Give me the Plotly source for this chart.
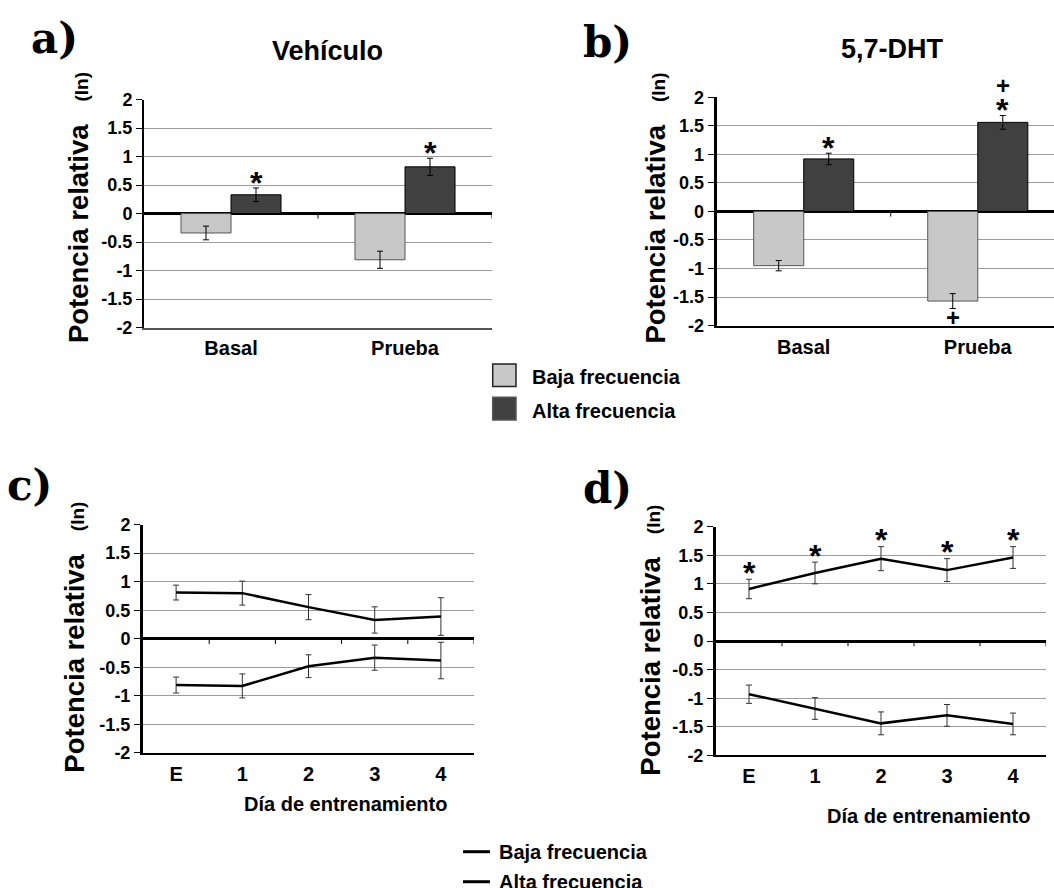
import plotly.graph_objects as go

# ---------------- data ----------------
bar_categories = ["Basal", "Prueba"]
veh_low = [-0.34, -0.81]
veh_low_err = [0.12, 0.15]
veh_high = [0.33, 0.82]
veh_high_err = [0.12, 0.15]

dht_low = [-0.95, -1.57]
dht_low_err = [0.09, 0.13]
dht_high = [0.92, 1.56]
dht_high_err = [0.10, 0.12]

day_labels = ["E", "1", "2", "3", "4"]
c_high = [0.81, 0.80, 0.555, 0.33, 0.39]
c_high_err = [0.13, 0.21, 0.22, 0.23, 0.33]
c_low = [-0.81, -0.825, -0.48, -0.33, -0.38]
c_low_err = [0.14, 0.21, 0.20, 0.22, 0.32]

d_high = [0.91, 1.19, 1.44, 1.24, 1.46]
d_high_err = [0.17, 0.19, 0.21, 0.20, 0.19]
d_low = [-0.93, -1.18, -1.44, -1.30, -1.45]
d_low_err = [0.16, 0.19, 0.20, 0.19, 0.19]

y_ticks = [-2, -1.5, -1, -0.5, 0, 0.5, 1, 1.5, 2]
y_tick_text = ["-2", "-1.5", "-1", "-0.5", "0", "0.5", "1", "1.5", "2"]
Y_RANGE = [-2, 2]

# ---------------- page geometry ----------------
W, H = 1054, 900
# measured relation between page pixels and picture pixels (vertical)
OFF, SCALE = 9.45, 0.9776

FONT = "Liberation Sans, Arial, sans-serif"
LIGHT = "#c8c8c8"
DARK = "#404040"
GRID = "#9c9c9c"
BARGAP = 0.425


def px_x(x):
    return x / W


def px_y(y):
    return 1 - ((y - OFF) / SCALE) / H


def P(x, y):
    return px_x(x), px_y(y)


fig = go.Figure()

fig.add_trace(go.Bar(x=bar_categories, y=veh_low, name="Baja frecuencia",
                     marker=dict(color=LIGHT, line=dict(color="#555555", width=1)),
                     error_y=dict(type="data", array=veh_low_err, color="black", thickness=1, width=3),
                     xaxis="x", yaxis="y", showlegend=False))
fig.add_trace(go.Bar(x=bar_categories, y=veh_high, name="Alta frecuencia",
                     marker=dict(color=DARK, line=dict(color="black", width=1)),
                     error_y=dict(type="data", array=veh_high_err, color="black", thickness=1, width=3),
                     xaxis="x", yaxis="y", showlegend=False))
fig.add_trace(go.Bar(x=bar_categories, y=dht_low, name="Baja frecuencia",
                     marker=dict(color=LIGHT, line=dict(color="#555555", width=1)),
                     error_y=dict(type="data", array=dht_low_err, color="black", thickness=1, width=3),
                     xaxis="x2", yaxis="y2", showlegend=False))
fig.add_trace(go.Bar(x=bar_categories, y=dht_high, name="Alta frecuencia",
                     marker=dict(color=DARK, line=dict(color="black", width=1)),
                     error_y=dict(type="data", array=dht_high_err, color="black", thickness=1, width=3),
                     xaxis="x2", yaxis="y2", showlegend=False))

for xa, ya, hi, hie, lo, loe in [("x3", "y3", c_high, c_high_err, c_low, c_low_err),
                                 ("x4", "y4", d_high, d_high_err, d_low, d_low_err)]:
    for vals, errs, nm in [(lo, loe, "Baja frecuencia"), (hi, hie, "Alta frecuencia")]:
        fig.add_trace(go.Scatter(x=day_labels, y=vals, mode="lines", name=nm,
                                 line=dict(color="black", width=2.5),
                                 error_y=dict(type="data", array=errs, color="#333333", thickness=1, width=3),
                                 xaxis=xa, yaxis=ya, showlegend=False))

doms = {
    "a": dict(x=[px_x(144), px_x(492)], y=[px_y(327), px_y(99)]),
    "b": dict(x=[px_x(716.7), 1.0], y=[px_y(325), px_y(96.7)]),
    "c": dict(x=[px_x(143), px_x(474)], y=[px_y(752.3), px_y(524)]),
    "d": dict(x=[px_x(716), px_x(1046)], y=[px_y(754.7), px_y(526)]),
}
tickfont_y = dict(family=FONT, size=18, color="black", weight="bold")
tickfont_x = dict(family=FONT, size=20, color="black", weight="bold")

panels = [("a", "xaxis", "yaxis", "y", [-0.5, 1.5], 2),
          ("b", "xaxis2", "yaxis2", "y2", [-0.5, 1.438], 3),
          ("c", "xaxis3", "yaxis3", "y3", [-0.5, 4.5], 3),
          ("d", "xaxis4", "yaxis4", "y4", [-0.5, 4.5], 3)]
for key, xk, yk, yref, xr, lw in panels:
    fig.layout[xk] = dict(domain=doms[key]["x"], anchor=yref, type="category", range=xr,
                          showgrid=False, zeroline=False, showline=True,
                          linecolor="#555555" if key == "a" else "black",
                          linewidth=1.5 if key == "a" else 2,
                          ticks="", tickfont=tickfont_x, ticklabelstandoff=2, fixedrange=True)
    fig.layout[yk] = dict(domain=doms[key]["y"], anchor=yref.replace("y", "x"), range=Y_RANGE,
                          tickvals=y_ticks, ticktext=y_tick_text, tickfont=tickfont_y,
                          showgrid=True, gridcolor=GRID, gridwidth=1,
                          zeroline=True, zerolinecolor="black", zerolinewidth=3,
                          showline=True, linecolor="black", linewidth=lw,
                          ticks="outside", ticklen=6, tickcolor="black", tickwidth=1,
                          fixedrange=True)

ann = []


def text(xpx, ypx, s, size, family=FONT, xanchor="center", yanchor="middle", angle=0):
    x, y = P(xpx, ypx)
    ann.append(dict(x=x, y=y, xref="paper", yref="paper", text=s, showarrow=False,
                    xanchor=xanchor, yanchor=yanchor, textangle=angle,
                    font=dict(family=family, size=size, color="black", weight="bold")))


for lbl, (xp, yp) in zip(["a)", "b)", "c)", "d)"], [(54, 38), (607, 42), (29, 485), (607, 488)]):
    text(xp, yp, lbl, 42, family="DejaVu Serif")
text(327, 50, "Vehículo", 27)
text(892, 48, "5,7-DHT", 27)
ytitle = "Potencia relativa\u00a0\u00a0\u00a0<span style='font-size:19px'>(ln)</span>"
for xp, yp in [(78, 207.5), (656, 208), (75, 637), (651, 640)]:
    text(xp, yp, ytitle, 27.5, angle=-90)
text(345, 803, "Día de entrenamiento", 20)
text(928, 815, "Día de entrenamiento", 20)

half_w = (1 - BARGAP) / 4


def to_paper_y(key, val):
    d0, d1 = doms[key]["y"]
    return d0 + (val - Y_RANGE[0]) / (Y_RANGE[1] - Y_RANGE[0]) * (d1 - d0)


def mark(key, xref, xval, yval, s, size, yshift):
    ann.append(dict(x=xval, y=to_paper_y(key, yval), xref=xref, yref="paper", text=s, showarrow=False,
                    xanchor="center", yanchor="middle", yshift=yshift,
                    font=dict(family=FONT, size=size, color="black", weight="bold")))


for i in range(len(bar_categories)):
    mark("a", "x", i + half_w, veh_high[i] + veh_high_err[i] + 0.2, "*", 32, -6)
mark("b", "x2", 0 + half_w, dht_high[0] + dht_high_err[0] + 0.2, "*", 32, -6)
mark("b", "x2", 1 + half_w, dht_high[1] + dht_high_err[1] + 0.2, "*", 32, -6)
mark("b", "x2", 1 + half_w, dht_high[1] + dht_high_err[1] + 0.52, "+", 24, 0)
mark("b", "x2", 1 - half_w, dht_low[1] - dht_low_err[1] - 0.15, "+", 24, 0)
for i in range(len(day_labels)):
    mark("d", "x4", i, d_high[i] + d_high_err[i] + 0.2, "*", 32, -5)

text(530, 376, "Baja frecuencia", 20, xanchor="left")
text(530, 410, "Alta frecuencia", 20, xanchor="left")
text(497, 851, "Baja frecuencia", 20, xanchor="left")
text(497, 881, "Alta frecuencia", 20, xanchor="left")

shapes = []
for (y0, y1), col, lc in [((363.3, 386), LIGHT, "#222222"), ((396.7, 419.3), DARK, "#555555")]:
    x0p, y0p = P(492.7, y0)
    x1p, y1p = P(516, y1)
    shapes.append(dict(type="rect", xref="paper", yref="paper", x0=x0p, x1=x1p, y0=y1p, y1=y0p,
                       fillcolor=col, line=dict(color=lc, width=1.5)))
for yl in [851, 881]:
    x0p, yp = P(463, yl)
    x1p, _ = P(490, yl)
    shapes.append(dict(type="line", xref="paper", yref="paper", x0=x0p, x1=x1p, y0=yp, y1=yp,
                       line=dict(color="black", width=3)))

# small tick marks on the zero line at category boundaries
for xr, yr, n in [("x", "y", 2), ("x2", "y2", 1), ("x3", "y3", 5), ("x4", "y4", 5)]:
    for k in range(n):
        b = k + 0.5
        shapes.append(dict(type="line", xref=xr, yref=yr, x0=b, x1=b, y0=0, y1=-0.09,
                           line=dict(color="black", width=1)))

fig.update_layout(width=W, height=H, margin=dict(l=0, r=0, t=0, b=0),
                  paper_bgcolor="white", plot_bgcolor="white",
                  barmode="group", bargap=BARGAP, bargroupgap=0,
                  annotations=ann, shapes=shapes, showlegend=False)

fig.write_html("out.html", config={"displayModeBar": False},
               post_script="document.body.style.margin='0';document.body.style.overflow='hidden';")
